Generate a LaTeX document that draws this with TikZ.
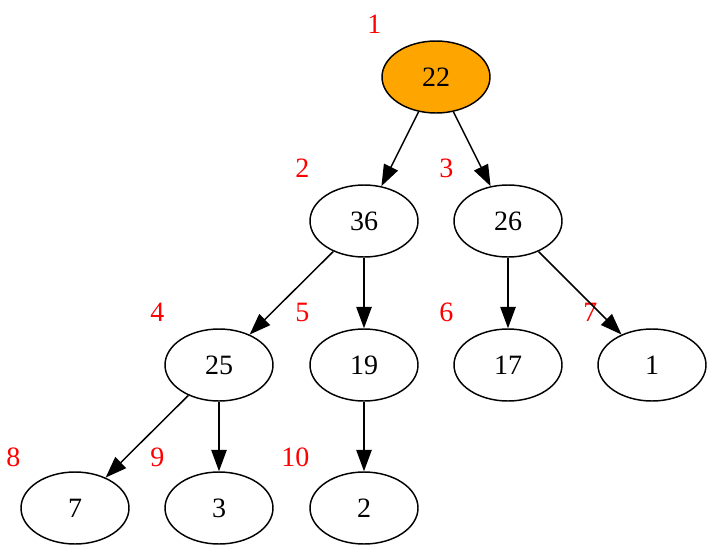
\documentclass[tikz,border=0pt]{standalone}
\usepackage{fontspec}
\setmainfont{Liberation Serif}
\usetikzlibrary{shapes.geometric,arrows.meta}
\definecolor{rootfill}{HTML}{FFA500}

\begin{document}
\begin{tikzpicture}[x=0.75pt,y=-0.75pt,line width=1.1pt,
    every node/.style={font=\fontsize{21}{25}\selectfont},
    key/.style={ellipse,draw,minimum width=81pt,minimum height=54pt,inner sep=0pt},
    idx/.style={text=red,anchor=east,inner sep=0pt},
    edge/.style={-{Triangle[length=16pt,width=11.5pt]}}]
        \useasboundingbox (0,0) rectangle (714,553);
        % tree nodes
        \node[key,fill=rootfill] (v22) at (436,77) {22};
        \node[key] (v36) at (364,221) {36};
        \node[key] (v26) at (508,221) {26};
        \node[key] (v25) at (219,365) {25};
        \node[key] (v19) at (364,365) {19};
        \node[key] (v17) at (508,365) {17};
        \node[key] (v1)  at (652,365) {1};
        \node[key] (v7)  at (75,508)  {7};
        \node[key] (v3)  at (219,508) {3};
        \node[key] (v2)  at (364,508) {2};
        % positions
        \node[idx] (i1)  at (382,24)  {1};
        \node[idx] (i2)  at (310,168) {2};
        \node[idx] (i3)  at (454,168) {3};
        \node[idx] (i4)  at (165,312) {4};
        \node[idx] (i5)  at (310,312) {5};
        \node[idx] (i6)  at (454,312) {6};
        \node[idx] (i7)  at (598,312) {7};
        \node[idx] (i8)  at (21,457)  {8};
        \node[idx] (i9)  at (165,457) {9};
        \node[idx] (i10) at (310,457) {10};
        % edges
        \draw[edge] (v22) -- (v36);
        \draw[edge] (v22) -- (v26);
        \draw[edge] (v36) -- (v25);
        \draw[edge] (v36) -- (v19);
        \draw[edge] (v26) -- (v17);
        \draw[edge] (v26) -- (v1);
        \draw[edge] (v25) -- (v7);
        \draw[edge] (v25) -- (v3);
        \draw[edge] (v19) -- (v2);
    \end{tikzpicture}
\end{document}
